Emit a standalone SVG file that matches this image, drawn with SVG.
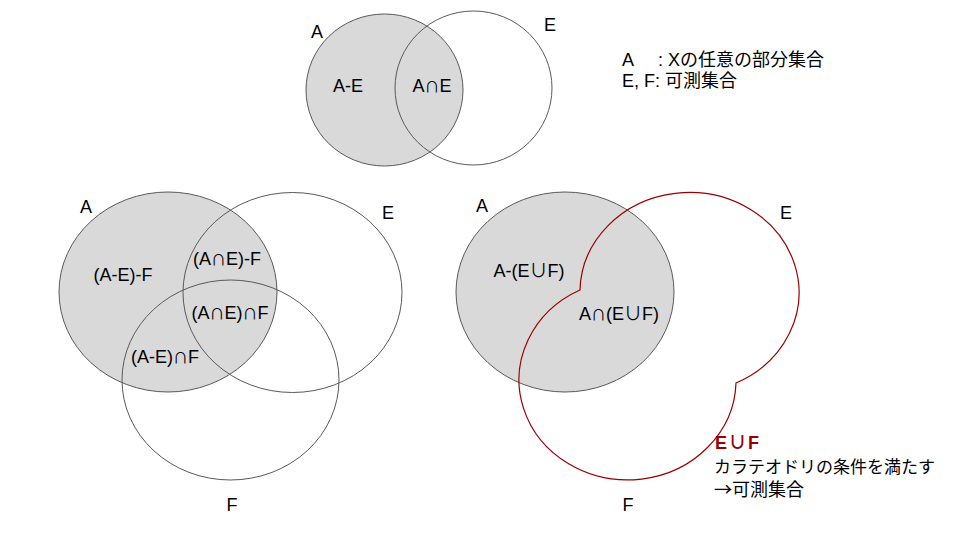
<svg xmlns="http://www.w3.org/2000/svg" width="960" height="540" viewBox="0 0 960 540">
<style>
text{font-family:"Liberation Sans","Noto Sans CJK JP",sans-serif;font-size:18px;fill:#000}
.mid{text-anchor:middle}
.op{font-family:"Noto Sans CJK JP",sans-serif;font-size:15px}
.jp{font-family:"Noto Sans CJK JP",sans-serif}
.setA{fill:#d9d9d9;stroke:#595959;stroke-width:1}
.set{fill:none;stroke:#595959;stroke-width:1}
.union{fill:none;stroke:#9a0000;stroke-width:1.2}
.red{fill:#9a0000;font-weight:bold;letter-spacing:1.5px}
.cjk{font-size:18px}
</style>
<rect width="960" height="540" fill="#fff"/>
<g id="venn-top">
<ellipse class="setA" cx="384.5" cy="90" rx="78.5" ry="76"/>
<ellipse class="set" cx="473.5" cy="88" rx="78.5" ry="77"/>
<text x="317" y="38" class="mid">A</text>
<text x="550" y="31" class="mid">E</text>
<text x="348" y="92" class="mid">A-E</text>
<text x="432" y="92" class="mid">A<tspan class="op">∩</tspan>E</text>
</g>
<g id="legend">
<text x="622" y="66">A<tspan x="658">: X</tspan><tspan class="cjk">の任意の部分集合</tspan></text>
<text x="622" y="87">E, F: <tspan class="cjk">可測集合</tspan></text>
</g>
<g id="venn-left">
<ellipse class="setA" cx="168" cy="292" rx="109" ry="100"/>
<ellipse class="set" cx="292.5" cy="292.5" rx="109.5" ry="100"/>
<ellipse class="set" cx="230.5" cy="380" rx="108.5" ry="100"/>
<text x="86" y="213" class="mid">A</text>
<text x="388" y="219" class="mid">E</text>
<text x="232" y="511" class="mid">F</text>
<text x="123" y="281" class="mid">(A-E)-F</text>
<text x="227" y="265" class="mid">(A<tspan class="op">∩</tspan>E)-F</text>
<text x="230" y="319" class="mid">(A<tspan class="op">∩</tspan>E)<tspan class="op">∩</tspan>F</text>
<text x="165" y="363" class="mid">(A-E)<tspan class="op">∩</tspan>F</text>
</g>
<g id="venn-right">
<ellipse class="setA" cx="565" cy="292" rx="109" ry="100"/>
<path class="union" d="M580 290 A109.5 100 0 1 1 736 383 A108.5 100 0 1 1 580 290 Z"/>
<text x="482" y="212" class="mid">A</text>
<text x="786" y="219" class="mid">E</text>
<text x="628" y="511" class="mid">F</text>
<text x="529" y="277" class="mid">A-(E<tspan class="jp">∪</tspan>F)</text>
<text x="619" y="320" class="mid">A<tspan class="op">∩</tspan>(E<tspan class="jp">∪</tspan>F)</text>
</g>
<g id="note">
<text x="715" y="449" class="red">E∪F</text>
<text x="714" y="473" style="font-size:17px">カラテオドリの条件を満たす</text>
<text x="714" y="496"><tspan class="jp">→</tspan>可測集合</text>
</g>
</svg>
